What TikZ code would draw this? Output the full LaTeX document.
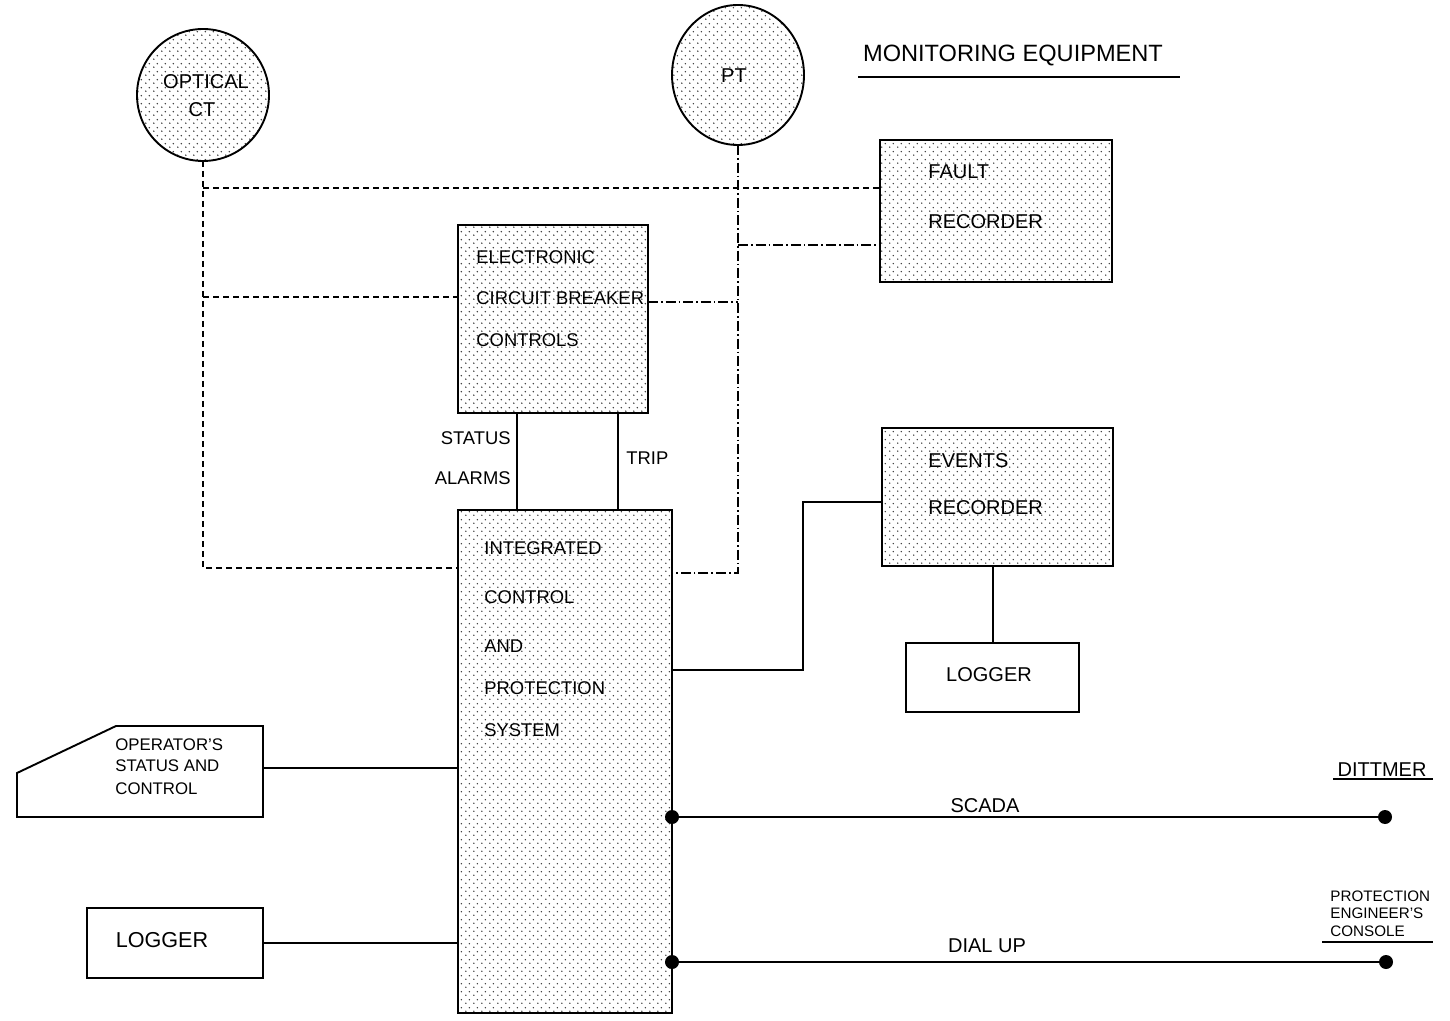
\documentclass[tikz,border=0pt]{standalone}
\usepackage{fontspec}
\setmainfont{Liberation Sans}
\usetikzlibrary{patterns,shapes.geometric}
\pgfdeclarepatternformonly{stipple}{\pgfqpoint{0pt}{0pt}}{\pgfqpoint{4pt}{4pt}}{\pgfqpoint{4pt}{4pt}}{%
  \pgfpathcircle{\pgfqpoint{1pt}{1pt}}{0.42pt}%
  \pgfpathcircle{\pgfqpoint{3pt}{3pt}}{0.42pt}%
  \pgfusepath{fill}}
\begin{document}
\begin{tikzpicture}[x=0.5pt,y=-0.5pt,
  box/.style={draw, line width=0.95pt, inner sep=0pt, outer sep=0pt, rectangle},
  shaded/.style={box, pattern=stipple, pattern color=black!80},
  ctline/.style={line width=0.8pt, dash pattern=on 3pt off 2pt},
  ptline/.style={line width=0.7pt, dash pattern=on 5pt off 1.5pt on 0.8pt off 1.5pt},
  wire/.style={line width=1.15pt},
  txt/.style={inner sep=0pt, anchor=west, font=\fontsize{10}{12}\selectfont},
  smalltxt/.style={txt, font=\fontsize{9.2}{11}\selectfont},
  tinytxt/.style={txt, font=\fontsize{8.4}{10}\selectfont},
  microtxt/.style={txt, font=\fontsize{7.6}{9}\selectfont},
  bigdot/.style={circle, fill, inner sep=0pt, minimum size=7pt},
]
\fill[white] (0,0) rectangle (1450,1021);
\useasboundingbox (0,0) rectangle (1450,1021);

% sensors
\node[shaded, circle, minimum size=66pt] (ct) at (203,95) {};
\node[shaded, ellipse, minimum width=66pt, minimum height=70pt] (pt) at (738,75) {};
\node[txt, anchor=center] (ctt1) at (206,82) {OPTICAL};
\node[txt, anchor=center] (ctt2) at (202,110) {CT};
\node[txt, anchor=center] (ptt) at (734,76) {PT};

% title
\node[txt, anchor=center, font=\fontsize{11.8}{14}\selectfont] (mon) at (1013,55) {MONITORING EQUIPMENT};
\draw[line width=0.9pt] (858,77) -- (1180,77);

% boxes
\node[shaded, minimum width=116pt, minimum height=71pt] (fr) at (996,211) {};
\node[shaded, minimum width=95pt, minimum height=94pt] (ecb) at (553,319) {};
\node[shaded, minimum width=107pt, minimum height=251.5pt] (icps) at (565,761.5) {};
\node[shaded, minimum width=115.5pt, minimum height=69pt] (er) at (997.5,497) {};
\node[box, minimum width=86.5pt, minimum height=34.5pt] (log2) at (992.5,677.5) {};
\node[box, minimum width=88pt, minimum height=35pt] (log1) at (175,943) {};
\draw[box] (17,773) -- (116,726) -- (263,726) -- (263,817) -- (17,817) -- cycle;
\coordinate (op) at (263,768);

% box texts
\node[txt] (fr1) at (928,172) {FAULT};
\node[txt] (fr2) at (928,222) {RECORDER};
\node[smalltxt] (e1) at (476,257) {ELECTRONIC};
\node[smalltxt] (e2) at (476,298) {CIRCUIT BREAKER};
\node[smalltxt] (e3) at (476,340) {CONTROLS};
\node[smalltxt] (i1) at (484,548) {INTEGRATED};
\node[smalltxt] (i2) at (484,597) {CONTROL};
\node[smalltxt] (i3) at (484,646) {AND};
\node[smalltxt] (i4) at (484,688) {PROTECTION};
\node[smalltxt] (i5) at (484,730) {SYSTEM};
\node[txt] (ev1) at (928,461) {EVENTS};
\node[txt] (ev2) at (928,508) {RECORDER};
\node[txt, anchor=center] (lg2) at (989,675) {LOGGER};
\node[txt, anchor=center, font=\fontsize{10.8}{12}\selectfont] (lg1) at (162,940) {LOGGER};
\node[tinytxt] (o1) at (115,745) {OPERATOR'S};
\node[tinytxt] (o2) at (115,766) {STATUS AND};
\node[tinytxt] (o3) at (115,789) {CONTROL};

% CT dashed connections
\coordinate (cb1) at (203,188);
\coordinate (cb2) at (203,297);
\coordinate (cb3) at (203,568);
\draw[ctline] (ct.south) -- (cb3) -- (cb3 -| icps.west);
\draw[ctline] (cb1) -- (cb1 -| fr.west);
\draw[ctline] (cb2) -- (cb2 -| ecb.west);

% PT dash-dot connections
\coordinate (pb1) at (738,245);
\coordinate (pb2) at (738,302);
\coordinate (pb3) at (738,573);
\draw[ptline] (pt.south) -- (pb3) -- (pb3 -| icps.east);
\draw[ptline] (pb1) -- (pb1 -| fr.west);
\draw[ptline] (pb2 -| ecb.east) -- (pb2);

% status / trip
\coordinate (sa) at (517,0);
\coordinate (tr) at (618,0);
\draw[line width=1pt] (sa |- ecb.south) -- (sa |- icps.north);
\draw[line width=1pt] (tr |- ecb.south) -- (tr |- icps.north);
\node[smalltxt, anchor=east] (s1) at (511,438) {STATUS};
\node[smalltxt, anchor=east] (s2) at (511,478) {ALARMS};
\node[smalltxt] (tp) at (626,458) {TRIP};

% events recorder link
\coordinate (ev0) at (672,670);
\coordinate (evk) at (803,670);
\coordinate (evt) at (803,502);
\draw[wire] (ev0) -- (evk) -- (evt) -- (evt -| er.west);
\draw[line width=1pt] (er.south -| log2.north) -- (log2.north);

% operator / logger
\draw[wire] (op) -- (op -| icps.west);
\draw[wire] (log1.east) -- (log1.east -| icps.west);

% SCADA / dial up
\node[bigdot] (sc1) at (672,817) {};
\node[bigdot] (sc2) at (1385,817) {};
\draw[wire] (sc1) -- (sc2);
\node[txt, anchor=center] (scl) at (985,806) {SCADA};
\node[bigdot] (du1) at (672,962) {};
\node[bigdot] (du2) at (1386,962) {};
\draw[wire] (du1) -- (du2);
\node[txt, anchor=center] (dul) at (987,946) {DIAL UP};

% destinations
\node[txt, anchor=center] (dit) at (1382,770) {DITTMER};
\draw[line width=0.9pt] (1333,779) -- (1433,779);
\node[microtxt] (pe1) at (1330,896) {PROTECTION};
\node[microtxt] (pe2) at (1330,913) {ENGINEER'S};
\node[microtxt] (pe3) at (1330,931) {CONSOLE};
\draw[line width=0.9pt] (1322,942) -- (1433,942);
\end{tikzpicture}
\end{document}
